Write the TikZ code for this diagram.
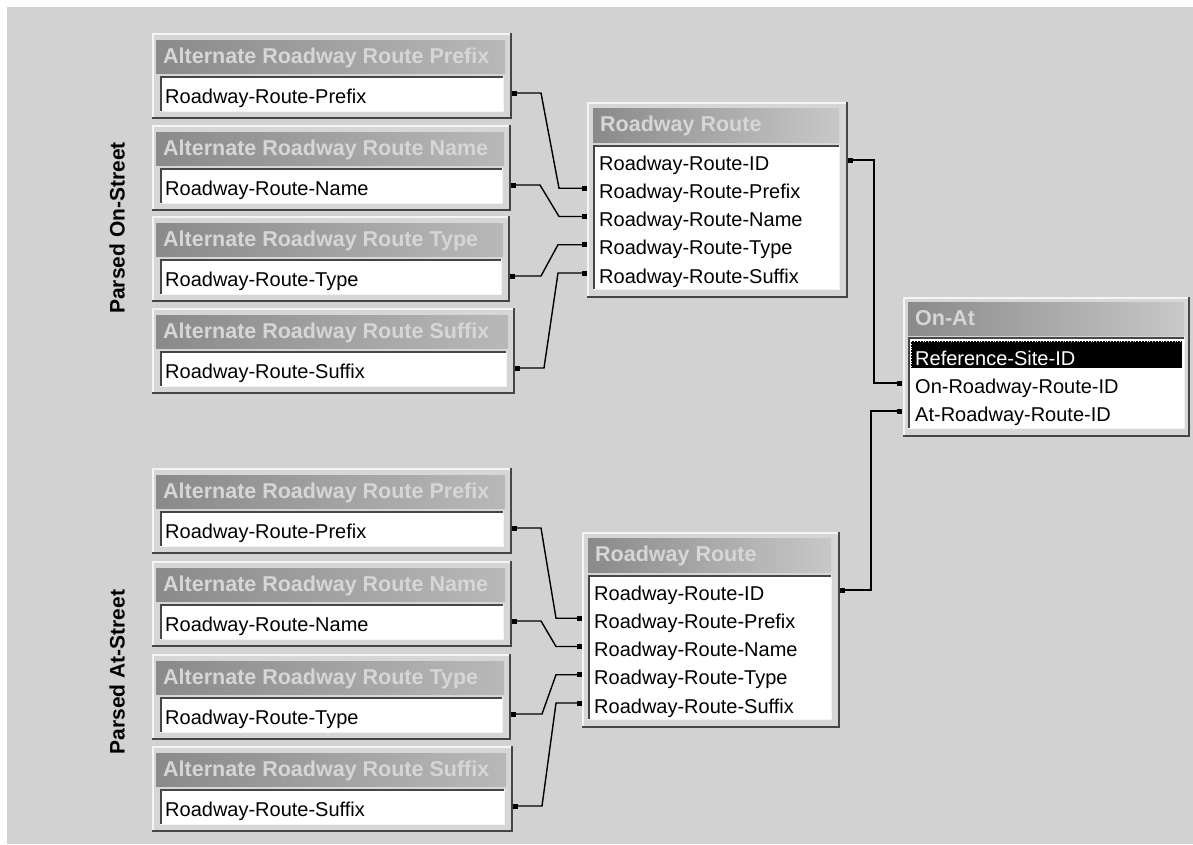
\documentclass[tikz,border=0pt]{standalone}
\usepackage{fontspec}
\setmainfont{Liberation Sans}
\usetikzlibrary{calc}
\definecolor{bgc}{HTML}{D2D2D2}
\definecolor{frmc}{HTML}{D6D6D6}
\definecolor{hdrL}{HTML}{8A8A8A}
\definecolor{hdrR}{HTML}{B8B8B8}
\definecolor{hdrRR}{HTML}{C8C8C8}
\definecolor{hdrT}{HTML}{D6D6D6}
\definecolor{dkc}{HTML}{464646}
\definecolor{ltc}{HTML}{F4F4F4}
\tikzset{
  frm/.style={fill=frmc, inner sep=0pt, draw=none},
  hdrbar/.style={left color=hdrL, right color=hdrR, inner sep=0pt, draw=none},
  hdrbarlight/.style={left color=hdrL, right color=hdrRR, inner sep=0pt, draw=none},
  sunk/.style={fill=white, inner sep=0pt, draw=none},
  fieldtxt/.style={font=\fontsize{20}{24}\selectfont, anchor=base west, inner sep=0pt, text=black},
  hdrtxt/.style={font=\bfseries\fontsize{21.5}{24}\selectfont, anchor=base west, inner sep=0pt, text=hdrT},
  sidelab/.style={font=\bfseries\fontsize{21}{24}\selectfont, rotate=90, inner sep=0pt, text=black},
  conn/.style={line width=1.4pt, black, line join=miter},
}
% raised 3D frame: name, x1, y1, x2, y2
\newcommand\RaisedFrame[5]{%
  \node[frm, minimum width={#4-(#2)}, minimum height={#5-(#3)}, anchor=north west] (#1) at (#2,#3) {};
  \draw[ltc, line width=1.6pt] (#2+1,#5-1) -- (#2+1,#3+1) -- (#4-1,#3+1);
  \draw[dkc, line width=2.2pt] (#2,#5-1) -- (#4-1,#5-1) -- (#4-1,#3);
}
% sunken white box: name, x1, y1, x2, y2
\newcommand\SunkenBox[5]{%
  \node[sunk, minimum width={#4-(#2)}, minimum height={#5-(#3)}, anchor=north west] (#1) at (#2,#3) {};
  \draw[dkc, line width=2pt] (#2+1,#5) -- (#2+1,#3+1) -- (#4,#3+1);
  \draw[ltc, line width=1.5pt] (#2,#5-0.75) -- (#4-0.75,#5-0.75) -- (#4-0.75,#3);
}
% header bar: style, name, x1, y1, x2, y2, text
\newcommand\HeaderBar[7]{%
  \node[#1, minimum width={#5-(#3)}, minimum height={#6-(#4)}, anchor=north west] (#2) at (#3,#4) {};
  \node[hdrtxt] (#2-t) at (#3+7,#4+23) {#7};
}
% alternate table: name, top, right x, title, field
\newcommand\AltTable[5]{%
  \RaisedFrame{#1}{152}{#2}{#3}{#2+86}
  \HeaderBar{hdrbar}{#1-h}{156}{#2+7}{#3-7}{#2+40}{#4}
  \SunkenBox{#1-f}{160}{#2+43}{#3-8}{#2+79}
  \node[fieldtxt] (#1-ft) at (165,#2+70) {#5};
  \coordinate (#1-out) at (#3+2,#2+60);
  \fill (#1-out) +(-2.5,-2.5) rectangle +(2.5,2.5);
}
% roadway route table: name, x1, y1, x2, y2
\newcommand\RouteTable[5]{%
  \RaisedFrame{#1}{#2}{#3}{#4}{#5}
  \HeaderBar{hdrbarlight}{#1-h}{#2+6}{#3+6}{#4-9}{#3+40}{Roadway Route}
  \SunkenBox{#1-l}{#2+6}{#3+43}{#4-8}{#5-8}
  \node[fieldtxt] (#1-id)  at (#2+12,#3+68) {Roadway-Route-ID};
  \node[fieldtxt] (#1-pre) at (#2+12,#3+96.25) {Roadway-Route-Prefix};
  \node[fieldtxt] (#1-nam) at (#2+12,#3+124.5) {Roadway-Route-Name};
  \node[fieldtxt] (#1-typ) at (#2+12,#3+152.75) {Roadway-Route-Type};
  \node[fieldtxt] (#1-suf) at (#2+12,#3+181) {Roadway-Route-Suffix};
  \coordinate (#1-id-out) at (#4+2,#3+58);
  \coordinate (#1-pre-in) at (#2-3,#3+86.25);
  \coordinate (#1-nam-in) at (#2-3,#3+114.5);
  \coordinate (#1-typ-in) at (#2-3,#3+142.75);
  \coordinate (#1-suf-in) at (#2-3,#3+171);
  \foreach \p in {id-out,pre-in,nam-in,typ-in,suf-in}{\fill (#1-\p) +(-2.5,-2.5) rectangle +(2.5,2.5);}
}
\begin{document}
\begin{tikzpicture}[x=1pt,y=-1pt]
\useasboundingbox (0,0) rectangle (1193,844);
\fill[bgc] (7,7) rectangle (1193,844);

% side labels
\node[sidelab] (lab-on) at (117,228) {Parsed On-Street};
\node[sidelab] (lab-at) at (117,672) {Parsed At-Street};

% top group
\AltTable{ta}{33}{512}{Alternate Roadway Route Prefix}{Roadway-Route-Prefix}
\AltTable{tb}{125}{511}{Alternate Roadway Route Name}{Roadway-Route-Name}
\AltTable{tc}{216}{510}{Alternate Roadway Route Type}{Roadway-Route-Type}
\AltTable{td}{308}{515}{Alternate Roadway Route Suffix}{Roadway-Route-Suffix}
\RouteTable{ra}{587}{102}{848}{298}

% bottom group
\AltTable{ba}{468}{512}{Alternate Roadway Route Prefix}{Roadway-Route-Prefix}
\AltTable{bb}{561}{512}{Alternate Roadway Route Name}{Roadway-Route-Name}
\AltTable{bc}{654}{511}{Alternate Roadway Route Type}{Roadway-Route-Type}
\AltTable{bd}{746}{513}{Alternate Roadway Route Suffix}{Roadway-Route-Suffix}
\RouteTable{rb}{582}{532}{840}{728}

% On-At table
\RaisedFrame{oa}{903}{297}{1190}{437}
\HeaderBar{hdrbarlight}{oa-h}{908}{302}{1184}{335}{On-At}
\SunkenBox{oa-l}{908}{337}{1185}{429}
\node[fill=black, inner sep=0pt, minimum width=271, minimum height=27, anchor=north west] (oa-sel) at (911,341) {};
\draw[white, dotted, line width=0.8pt] (oa-sel.north west) rectangle (oa-sel.south east);
\node[fieldtxt, text=white] (oa-ref) at (915,365) {Reference-Site-ID};
\node[fieldtxt] (oa-on) at (915,393) {On-Roadway-Route-ID};
\node[fieldtxt] (oa-at) at (915,421) {At-Roadway-Route-ID};
\coordinate (oa-on-in) at (899,383);
\coordinate (oa-at-in) at (899,411);
\fill (oa-on-in) +(-2.5,-2.5) rectangle +(2.5,2.5);
\fill (oa-at-in) +(-2.5,-2.5) rectangle +(2.5,2.5);

% connectors top group
\draw[conn] (ta-out) -- ++(27,0) -- ($(ra-pre-in)+(-25,0)$) -- (ra-pre-in);
\draw[conn] (tb-out) -- ++(27,0) -- ($(ra-nam-in)+(-25,0)$) -- (ra-nam-in);
\draw[conn] (tc-out) -- ++(29,0) -- ($(ra-typ-in)+(-26,0)$) -- (ra-typ-in);
\draw[conn] (td-out) -- ++(27,0) -- ($(ra-suf-in)+(-26,0)$) -- (ra-suf-in);
% connectors bottom group
\draw[conn] (ba-out) -- ++(27,0) -- ($(rb-pre-in)+(-23,0)$) -- (rb-pre-in);
\draw[conn] (bb-out) -- ++(27,0) -- ($(rb-nam-in)+(-23,0)$) -- (rb-nam-in);
\draw[conn] (bc-out) -- ++(29,0) -- ($(rb-typ-in)+(-23,0)$) -- (rb-typ-in);
\draw[conn] (bd-out) -- ++(27,0) -- ($(rb-suf-in)+(-23,0)$) -- (rb-suf-in);
% to On-At
\draw[conn] (ra-id-out) -- ++(24,0) |- (oa-on-in);
\draw[conn] (rb-id-out) -- ++(29,0) |- (oa-at-in);
\end{tikzpicture}
\end{document}
